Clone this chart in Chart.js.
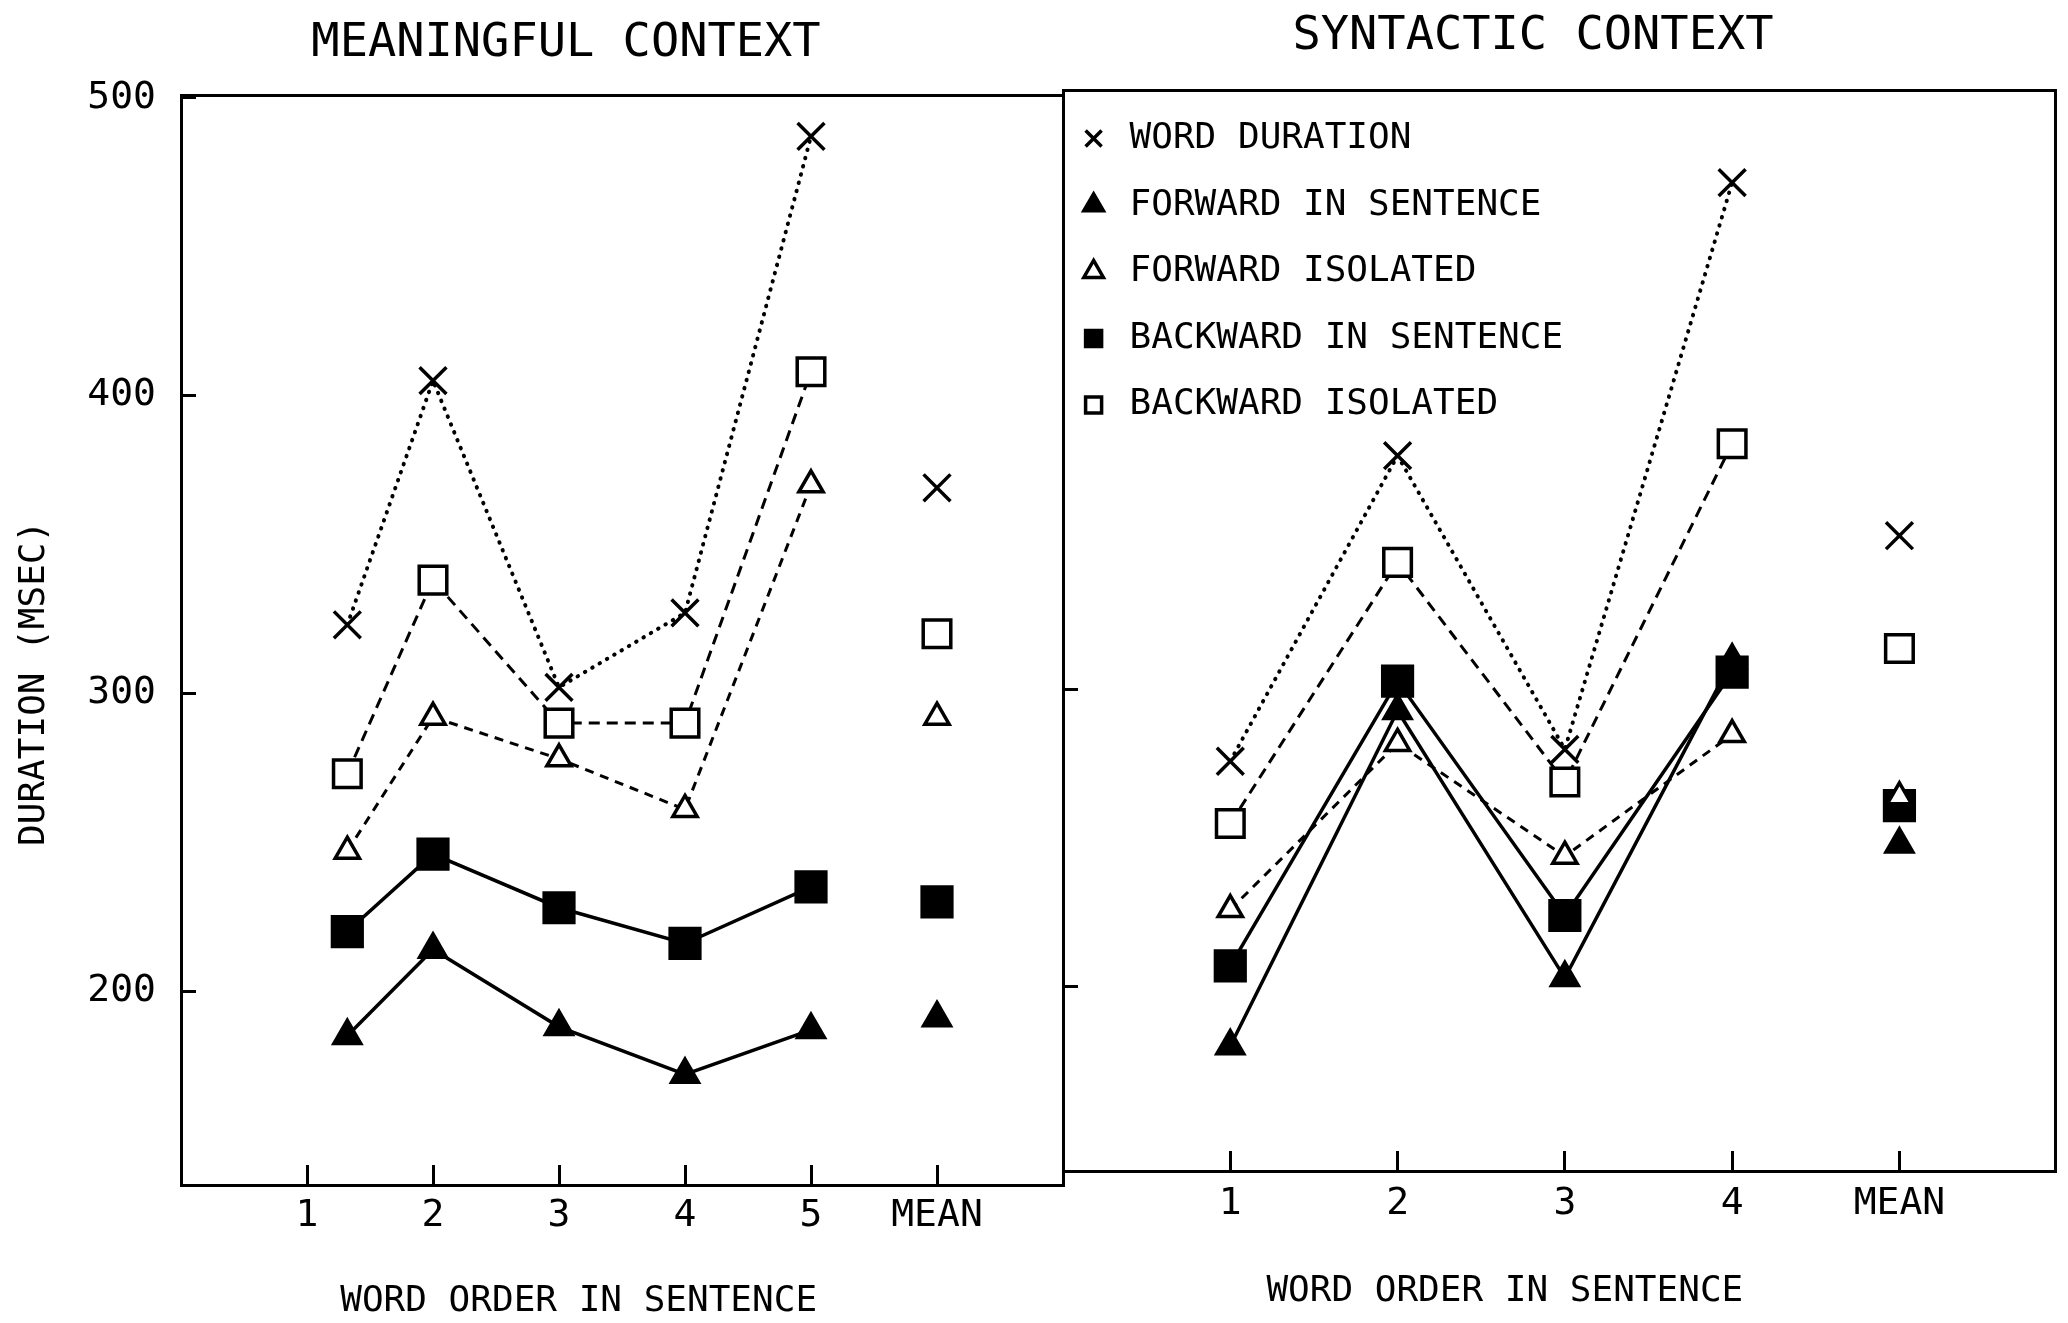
<!DOCTYPE html>
<html>
<head>
<meta charset="utf-8">
<title>Word duration by position in sentence</title>
<script src="https://cdn.jsdelivr.net/npm/chart.js@4.4.1/dist/chart.umd.min.js"></script>
<style>
  html, body { margin: 0; padding: 0; background: #fff; }
  #wrap { position: relative; width: 2068px; height: 1323px; }
  #wrap canvas { position: absolute; left: 0; top: 0; }
</style>
</head>
<body>
<div id="wrap">
  <canvas id="meaningful" width="2068" height="1323"></canvas>
  <canvas id="syntactic" width="2068" height="1323"></canvas>
</div>
<script>
// ---- data (durations in msec) ----
const seriesNames = ['WORD DURATION', 'FORWARD IN SENTENCE', 'FORWARD ISOLATED',
                     'BACKWARD IN SENTENCE', 'BACKWARD ISOLATED'];
const durationTicks = [200, 300, 400, 500];

// Meaningful context: words 1-5 plus the mean
const meaningfulWords = ['1', '2', '3', '4', '5', 'MEAN'];
const meaningfulPositions = [1.32, 2, 3, 4, 5, 6];
const meaningfulWordDuration      = [323, 405, 302, 327, 487, 369];
const meaningfulForwardSentence   = [185, 214, 188, 172, 187, 191];
const meaningfulForwardIsolated   = [247, 292, 278, 261, 370, 292];
const meaningfulBackwardSentence  = [220, 246, 228, 216, 235, 230];
const meaningfulBackwardIsolated  = [273, 338, 290, 290, 408, 320];

// Syntactic context: words 1-4 plus the mean
const syntacticWords = ['1', '2', '3', '4', 'MEAN'];
const syntacticPositions = [1, 2, 3, 4, 5];
const syntacticWordDuration     = [276, 379, 280, 471, 352];
const syntacticForwardSentence  = [180, 293, 203, 310, 248];
const syntacticForwardIsolated  = [226, 282, 244, 285, 264];
const syntacticBackwardSentence = [207, 303, 224, 306, 261];
const syntacticBackwardIsolated = [255, 343, 269, 383, 314];

// ---- appearance ----
const FONT = 'DejaVu Sans Mono';
const INK = '#000';
const seriesLook = [
  { pointStyle: 'crossRot', radius: 19,   fill: INK,    dash: [0.5, 8], width: 4,   cap: 'round' },
  { pointStyle: 'triangle', radius: 15.5, fill: INK,    dash: [],       width: 3.5, cap: 'butt' },
  { pointStyle: 'triangle', radius: 14,   fill: '#fff', dash: [9, 7],   width: 3,   cap: 'butt' },
  { pointStyle: 'rect',     radius: 21,   fill: INK,    dash: [],       width: 3.5, cap: 'butt' },
  { pointStyle: 'rect',     radius: 19.5, fill: '#fff', dash: [11, 7],  width: 3,   cap: 'butt' }
];

function buildDatasets(positions, valueLists) {
  const meanIndex = positions.length - 1;
  return valueLists.map((values, i) => {
    const look = seriesLook[i];
    return {
      label: seriesNames[i],
      data: values.map((v, j) => ({ x: positions[j], y: v })),
      borderColor: INK,
      backgroundColor: look.fill,
      borderWidth: look.width,
      borderDash: look.dash,
      borderCapStyle: look.cap,
      pointStyle: look.pointStyle,
      pointRadius: look.radius,
      pointBackgroundColor: look.fill,
      pointBorderColor: INK,
      pointBorderWidth: 3.5,
      tension: 0,
      fill: false,
      // the mean is plotted apart from the word sequence, so no connecting segment
      segment: {
        borderColor: ctx => (ctx.p1DataIndex === meanIndex ? 'rgba(0,0,0,0)' : undefined)
      }
    };
  });
}

// keeps a 'chartArea' legend pinned to the top-left corner inside the frame
const legendInFrame = {
  id: 'legendInFrame',
  afterLayout(chart, args, opts) {
    const lg = chart.legend;
    if (lg && lg.options.display) {
      lg.top = chart.chartArea.top;
      lg.left = chart.chartArea.left + (opts.shiftX || 0);
    }
  }
};

// fixed axis sizes; label overhang is not allowed to push the frame inwards
function fixSize(s, horizontal, size) {
  if (horizontal) s.height = size; else s.width = size;
  s.paddingLeft = 0;
  s.paddingRight = 0;
}

function frameScale(position, fitSize) {
  return {
    type: 'linear',
    position: position,
    display: true,
    grid: { display: false },
    ticks: { display: false },
    border: { display: true, color: INK, width: 3 },
    afterFit: s => fixSize(s, position === 'top' || position === 'bottom', fitSize)
  };
}

function panelOptions(cfg) {
  return {
    responsive: false,
    devicePixelRatio: 1,
    animation: false,
    events: [],
    layout: { padding: cfg.padding, autoPadding: false },
    plugins: {
      tooltip: { enabled: false },
      title: {
        display: true,
        text: cfg.title,
        color: INK,
        font: { family: FONT, size: 47, weight: 'normal' },
        padding: cfg.titlePadding
      },
      legend: cfg.legend,
      legendInFrame: { shiftX: -18 }
    },
    scales: {
      x: {
        type: 'linear',
        position: 'bottom',
        min: 0,
        max: cfg.xMax,
        afterBuildTicks: s => { s.ticks = cfg.words.map((w, i) => ({ value: i + 1 })); },
        afterFit: s => fixSize(s, true, cfg.xHeight),
        grid: { drawOnChartArea: false, drawTicks: true, tickLength: -20, color: INK, lineWidth: 3 },
        border: { display: true, color: INK, width: 3 },
        ticks: {
          padding: cfg.xTickPadding,
          color: INK,
          font: { family: FONT, size: 38 },
          maxRotation: 0,
          autoSkip: false,
          callback: v => cfg.words[v - 1]
        },
        title: {
          display: true,
          text: cfg.xTitle,
          color: INK,
          font: { family: FONT, size: 36 },
          padding: { top: 0, bottom: cfg.xTitleBottom }
        }
      },
      y: {
        type: 'linear',
        position: 'left',
        min: cfg.yMin,
        max: cfg.yMax,
        afterBuildTicks: s => { s.ticks = cfg.yTicks.map(v => ({ value: v })); },
        afterFit: s => fixSize(s, false, cfg.yWidth),
        grid: { drawOnChartArea: false, drawTicks: true, tickLength: -15, color: INK, lineWidth: 3 },
        border: { display: true, color: INK, width: 3 },
        ticks: {
          display: cfg.yLabels,
          padding: 40,
          color: INK,
          font: { family: FONT, size: 38 },
          callback: v => String(v)
        },
        title: {
          display: cfg.yLabels,
          text: 'DURATION (MSEC)    ',
          color: INK,
          font: { family: FONT, size: 36 },
          padding: { top: 13.4, bottom: 0 }
        }
      },
      xTop: frameScale('top', 0),
      yRight: frameScale('right', cfg.rightWidth)
    }
  };
}

new Chart(document.getElementById('meaningful'), {
  type: 'line',
  data: {
    datasets: buildDatasets(meaningfulPositions, [
      meaningfulWordDuration, meaningfulForwardSentence, meaningfulForwardIsolated,
      meaningfulBackwardSentence, meaningfulBackwardIsolated
    ])
  },
  options: panelOptions({
    title: 'MEANINGFUL CONTEXT',
    titlePadding: { top: 15.3, bottom: 23.3 },
    padding: { left: 0, right: 936, top: 0, bottom: 0 },
    words: meaningfulWords,
    xMax: 7,
    xHeight: 138,
    xTickPadding: 28.4,
    xTitle: 'WORD ORDER IN SENTENCE    ',
    xTitleBottom: 0,
    yMin: 134.9,
    yMax: 500.9,
    yTicks: durationTicks,
    yWidth: 181,
    yLabels: true,
    rightWidth: 69,
    legend: { display: false }
  })
});

new Chart(document.getElementById('syntactic'), {
  type: 'line',
  data: {
    datasets: buildDatasets(syntacticPositions, [
      syntacticWordDuration, syntacticForwardSentence, syntacticForwardIsolated,
      syntacticBackwardSentence, syntacticBackwardIsolated
    ])
  },
  plugins: [legendInFrame],
  options: panelOptions({
    title: 'SYNTACTIC CONTEXT',
    titlePadding: { top: 8.8, bottom: 24.8 },
    padding: { left: 998, right: 0, top: 0, bottom: 0 },
    words: syntacticWords,
    xMax: 5.93,
    xHeight: 152,
    xTickPadding: 30.4,
    xTitle: 'WORD ORDER IN SENTENCE     ',
    xTitleBottom: 9.4,
    yMin: 137.9,
    yMax: 502.2,
    yTicks: [200, 300],
    yWidth: 65,
    yLabels: false,
    rightWidth: 13,
    legend: {
      display: true,
      position: 'chartArea',
      align: 'start',
      labels: {
        usePointStyle: true,
        boxWidth: 36,
        boxHeight: 16,
        padding: 30.6,
        color: INK,
        font: { family: FONT, size: 36 }
      }
    }
  })
});
</script>
</body>
</html>
